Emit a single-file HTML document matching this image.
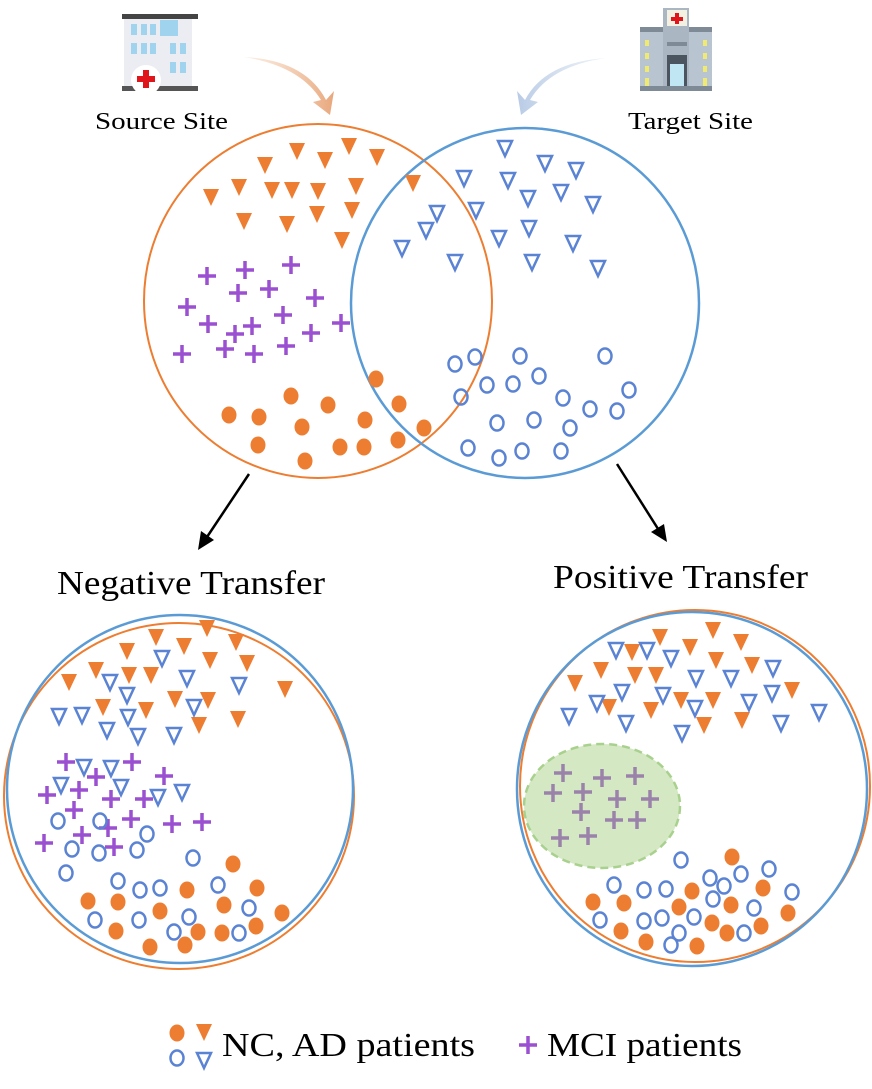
<!DOCTYPE html>
<html><head><meta charset="utf-8"><style>
html,body{margin:0;padding:0;background:#fff}
svg{display:block}
text{font-family:"Liberation Serif",serif;fill:#000}
</style></head><body>
<svg id="fig" width="872" height="1089" viewBox="0 0 872 1089">
<defs>
<linearGradient id="og" x1="0" x2="1"><stop offset="0" stop-color="#f3c8a6" stop-opacity="0.3"/><stop offset="1" stop-color="#e8a77c"/></linearGradient>
<linearGradient id="bg" x1="1" x2="0"><stop offset="0" stop-color="#cbd8ea" stop-opacity="0.3"/><stop offset="1" stop-color="#b8cbe6"/></linearGradient>
</defs>
<g>
<rect x="124" y="18" width="68" height="72" fill="#ebedf2"/>
<rect x="122" y="14" width="76" height="5" fill="#444"/>
<rect x="122" y="86" width="76" height="5" fill="#555"/>
<g fill="#9fd3ee">
<rect x="131" y="24" width="6" height="11"/><rect x="141" y="24" width="6" height="11"/><rect x="150" y="24" width="6" height="11"/><rect x="160" y="20" width="18" height="16"/>
<rect x="131" y="43" width="6" height="11"/><rect x="141" y="43" width="6" height="11"/><rect x="150" y="43" width="6" height="11"/><rect x="170" y="43" width="6" height="11"/><rect x="180" y="43" width="6" height="11"/>
<rect x="170" y="62" width="6" height="11"/><rect x="180" y="62" width="6" height="11"/>
</g>
<circle cx="146" cy="80" r="15" fill="#fff"/>
<rect x="143" y="70" width="6" height="18" fill="#e0141b"/><rect x="137" y="76" width="18" height="6" fill="#e0141b"/>
</g>
<g>
<rect x="640" y="30" width="72" height="60" fill="#b8c4d0"/>
<rect x="640" y="27" width="72" height="5" fill="#7e8a96"/>
<rect x="663" y="8" width="26" height="82" fill="#aab6c2"/>
<rect x="667" y="10" width="20" height="16" fill="#f3f1e2"/>
<rect x="675" y="13" width="4" height="11" fill="#e0141b"/><rect x="671" y="17" width="12" height="4" fill="#e0141b"/>
<rect x="667" y="42" width="20" height="4" fill="#7e8a96"/>
<rect x="667" y="55" width="20" height="35" fill="#4a5560"/>
<rect x="670" y="64" width="14" height="24" fill="#bfe6f2"/>
<g fill="#f0ea70"><rect x="645" y="40" width="4" height="6"/><rect x="645" y="53" width="4" height="6"/><rect x="645" y="66" width="4" height="6"/><rect x="645" y="78" width="4" height="8"/><rect x="703" y="40" width="4" height="6"/><rect x="703" y="53" width="4" height="6"/><rect x="703" y="66" width="4" height="6"/><rect x="703" y="78" width="4" height="8"/></g>
<rect x="640" y="86" width="72" height="5" fill="#7e8a96"/>
</g>
<text x="95" y="129" font-size="24" textLength="133" lengthAdjust="spacingAndGlyphs">Source Site</text>
<text x="628" y="129" font-size="24" textLength="125" lengthAdjust="spacingAndGlyphs">Target Site</text>
<path d="M244,57 Q305,60 326,100 L334,91 L330,115 L313,102 L321,100 Q300,66 244,57 Z" fill="url(#og)"/>
<path d="M606,58 Q545,62 525,100 L517,91 L521,115 L538,102 L530,100 Q550,66 606,58 Z" fill="url(#bg)"/>
<ellipse cx="318" cy="301" rx="174" ry="177" fill="none" stroke="#ED7D31" stroke-width="2"/>
<ellipse cx="525" cy="303" rx="174" ry="175" fill="none" stroke="#5B9BD5" stroke-width="2.5"/>
<g stroke="#000" stroke-width="2.5" fill="#000">
<line x1="249" y1="474" x2="205" y2="540"/><polygon points="198,550 201,531 214,540" stroke="none"/>
</g>
<g stroke="#000" stroke-width="2.5" fill="#000">
<line x1="617" y1="464" x2="660" y2="532"/><polygon points="667,542 651,532 664,524" stroke="none"/>
</g>
<text x="57" y="594" font-size="34" textLength="268" lengthAdjust="spacingAndGlyphs">Negative Transfer</text>
<text x="553" y="588" font-size="34" textLength="255" lengthAdjust="spacingAndGlyphs">Positive Transfer</text>
<ellipse cx="179" cy="796" rx="175" ry="173" fill="none" stroke="#ED7D31" stroke-width="2"/>
<ellipse cx="180" cy="789" rx="173" ry="174" fill="none" stroke="#5B9BD5" stroke-width="2.5"/>
<ellipse cx="695" cy="786" rx="175" ry="176" fill="none" stroke="#ED7D31" stroke-width="2"/>
<ellipse cx="692" cy="789" rx="175" ry="177" fill="none" stroke="#5B9BD5" stroke-width="2.5"/>
<ellipse cx="602" cy="806" rx="78" ry="62" fill="#d5e8c4" stroke="#a9d18e" stroke-width="2.5" stroke-dasharray="8,5"/>
<g id="marks"></g>
<g>
<text x="222" y="1056" font-size="34" textLength="253" lengthAdjust="spacingAndGlyphs">NC, AD patients</text>
<text x="547" y="1056" font-size="34" textLength="195" lengthAdjust="spacingAndGlyphs">MCI patients</text>
</g>
</svg>
<script>
const topOrangeTri=[[297,151],[349,146],[377,157],[265,165],[325,160],[211,197],[239,187],[272,190],[292,190],[318,191],[356,186],[413,183],[244,221],[287,224],[317,214],[352,210],[342,240]];
const topOrangeCirc=[[376,379],[291,396],[229,415],[259,417],[328,405],[399,404],[302,427],[365,420],[258,445],[340,447],[364,447],[398,440],[305,461],[424,428]];
const topPlus=[[207,276],[245,270],[291,265],[269,289],[238,293],[315,298],[187,307],[208,324],[252,326],[283,315],[235,334],[311,333],[341,323],[225,349],[254,354],[286,346],[182,354]];
const topBlueTri=[[505,148],[464,178],[508,180],[545,163],[576,170],[437,213],[476,210],[528,198],[561,192],[593,204],[426,230],[402,248],[499,238],[529,228],[573,243],[455,262],[532,262],[598,268]];
const topBlueCirc=[[455,364],[475,357],[520,356],[605,356],[487,385],[513,384],[539,376],[461,397],[563,398],[629,390],[590,409],[617,411],[497,423],[534,420],[570,428],[468,448],[499,458],[522,451],[561,451]];
const negOrangeTri=[[207,628],[156,637],[127,651],[184,646],[236,642],[96,670],[129,675],[151,675],[210,660],[247,663],[69,682],[103,707],[146,710],[175,699],[208,700],[285,689],[199,725],[238,719]];
const negBlueTri=[[162,658],[110,682],[127,695],[187,678],[239,685],[59,716],[82,715],[128,717],[107,730],[138,736],[174,735],[194,707],[84,767],[111,768],[61,785],[121,787],[158,797],[182,792]];
const negPlus=[[66,762],[132,762],[96,777],[164,776],[47,795],[79,790],[111,799],[144,799],[74,810],[131,819],[172,824],[202,822],[108,828],[82,835],[44,843],[114,847]];
const negBlueCirc=[[58,821],[100,821],[147,834],[72,849],[99,853],[137,850],[193,858],[66,873],[118,881],[140,890],[160,888],[218,885],[249,908],[95,920],[139,920],[189,917],[174,932],[239,933]];
const negOrangeCirc=[[233,864],[88,901],[118,902],[187,890],[257,888],[160,911],[224,905],[282,913],[116,931],[198,932],[222,933],[256,926],[150,947],[185,945]];
const posOrangeTri=[[713,630],[660,637],[741,642],[690,647],[632,652],[716,660],[752,665],[601,670],[635,675],[656,675],[681,700],[713,700],[792,690],[575,683],[609,707],[651,710],[704,725],[742,720]];
const posBlueTri=[[616,650],[647,650],[671,658],[773,668],[696,678],[731,678],[622,692],[663,695],[597,703],[695,708],[749,702],[772,693],[569,716],[626,723],[682,733],[781,723],[819,712]];
const posPlus=[[563,773],[602,778],[635,776],[553,793],[583,792],[617,799],[650,799],[581,812],[614,820],[637,820],[560,838],[588,836]];
const posBlueCirc=[[681,860],[769,869],[741,874],[710,878],[724,886],[614,885],[644,890],[666,889],[792,892],[713,899],[754,908],[694,917],[600,920],[644,921],[662,918],[679,933],[744,933],[671,945]];
const posOrangeCirc=[[732,857],[763,888],[692,891],[593,902],[624,903],[679,907],[731,905],[788,913],[712,923],[761,926],[621,931],[727,933],[646,942],[697,946]];
const legendOrangeCirc=[[177,1033]],legendOrangeTri=[[204,1032]],legendBlueCirc=[[177,1058]],legendBlueTri=[[204,1060]],legendPlus=[[528,1045]];

const OR='#ED7D31',BL='#5B83D3',PU='#9A50D0',GP='#9B82AA';
const NS='http://www.w3.org/2000/svg';
const g=document.getElementById('marks');
function mk(tag,attrs){const e=document.createElementNS(NS,tag);for(const k in attrs)e.setAttribute(k,attrs[k]);g.appendChild(e);return e;}
function tri(p,fill,name){
  const [x,y]=p, s=fill?8:7;
  const e=mk('polygon',{points:`${x-s},${y-s} ${x+s},${y-s} ${x},${y+s+1}`,fill:fill?OR:'none',stroke:fill?'none':BL,'stroke-width':2.5});
  
  
}
function circ(p,fill,name){
  const [x,y]=p;
  const e=fill?mk('ellipse',{cx:x,cy:y,rx:7.5,ry:8.5,fill:OR}):mk('ellipse',{cx:x,cy:y,rx:6.5,ry:7.5,fill:'none',stroke:BL,'stroke-width':2.5});
  
  
}
function plus(p,col,name){
  const [x,y]=p;
  const e=mk('path',{d:`M${x-9},${y}H${x+9}M${x},${y-9}V${y+9}`,stroke:col,'stroke-width':3.5,fill:'none'});
  
  
}
topOrangeTri.forEach(p=>tri(p,true,'source-ad-marker'));
topOrangeCirc.forEach(p=>circ(p,true,'source-nc-marker'));
topPlus.forEach(p=>plus(p,PU,'source-mci-marker'));
topBlueTri.forEach(p=>tri(p,false,'target-ad-marker'));
topBlueCirc.forEach(p=>circ(p,false,'target-nc-marker'));
negOrangeTri.forEach(p=>tri(p,true,'negative-source-ad-marker'));
negBlueTri.forEach(p=>tri(p,false,'negative-target-ad-marker'));
negPlus.forEach(p=>plus(p,PU,'negative-mci-marker'));
negBlueCirc.forEach(p=>circ(p,false,'negative-target-nc-marker'));
negOrangeCirc.forEach(p=>circ(p,true,'negative-source-nc-marker'));
posOrangeTri.forEach(p=>tri(p,true,'positive-source-ad-marker'));
posBlueTri.forEach(p=>tri(p,false,'positive-target-ad-marker'));
posPlus.forEach(p=>plus(p,GP,'positive-mci-marker'));
posBlueCirc.forEach(p=>circ(p,false,'positive-target-nc-marker'));
posOrangeCirc.forEach(p=>circ(p,true,'positive-source-nc-marker'));
legendOrangeCirc.forEach(p=>circ(p,true,'legend-orange-circle'));
legendOrangeTri.forEach(p=>tri(p,true,'legend-orange-triangle'));
legendBlueCirc.forEach(p=>circ(p,false,'legend-blue-circle'));
legendBlueTri.forEach(p=>tri(p,false,'legend-blue-triangle'));
legendPlus.forEach(p=>plus(p,PU,'legend-plus'));
</script>
</body></html>
